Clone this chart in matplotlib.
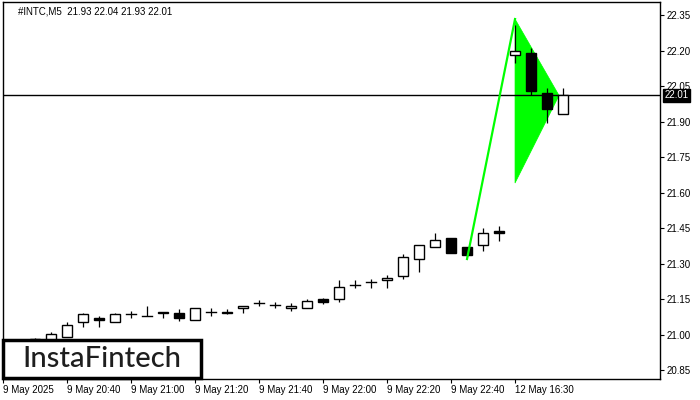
import matplotlib
matplotlib.use("Agg")
import matplotlib.pyplot as plt
from matplotlib.patches import Rectangle, Polygon

plt.rcParams['font.family'] = ['Liberation Sans', 'DejaVu Sans']

# OHLC data (M5 candles)
opens  = [20.962, 20.975, 20.981, 20.970, 20.991, 21.052, 21.069, 21.053, 21.086, 21.080,
          21.090, 21.090, 21.061, 21.096, 21.090, 21.113, 21.132, 21.125, 21.113, 21.111,
          21.149, 21.149, 21.208, 21.222, 21.229, 21.249, 21.318, 21.369, 21.408, 21.370,
          21.377, 21.437, 22.181, 22.189, 22.019, 21.930]
highs  = [20.968, 20.982, 20.985, 21.010, 21.053, 21.091, 21.078, 21.092, 21.101, 21.122,
          21.097, 21.108, 21.112, 21.111, 21.108, 21.122, 21.146, 21.139, 21.132, 21.150,
          21.153, 21.230, 21.230, 21.233, 21.250, 21.340, 21.378, 21.429, 21.409, 21.371,
          21.449, 21.459, 22.308, 22.211, 22.040, 22.040]
lows   = [20.955, 20.970, 20.965, 20.960, 20.990, 21.032, 21.032, 21.053, 21.069, 21.080,
          21.069, 21.059, 21.060, 21.080, 21.088, 21.090, 21.122, 21.111, 21.099, 21.110,
          21.131, 21.139, 21.198, 21.198, 21.198, 21.236, 21.266, 21.368, 21.345, 21.330,
          21.354, 21.396, 22.147, 22.012, 21.892, 21.930]
closes = [20.965, 20.978, 20.973, 21.002, 21.040, 21.087, 21.060, 21.087, 21.087, 21.080,
          21.096, 21.069, 21.111, 21.096, 21.096, 21.121, 21.132, 21.125, 21.122, 21.142,
          21.139, 21.200, 21.208, 21.222, 21.239, 21.326, 21.377, 21.398, 21.346, 21.337,
          21.428, 21.428, 22.198, 22.030, 21.952, 22.010]

tick_idx = [0, 4, 8, 12, 16, 20, 24, 28, 32]
tick_labels = ["9 May 2025", "9 May 20:40", "9 May 21:00", "9 May 21:20", "9 May 21:40",
               "9 May 22:00", "9 May 22:20", "9 May 22:40", "12 May 16:30"]
y_ticks = [20.85, 21.00, 21.15, 21.30, 21.45, 21.60, 21.75, 21.90, 22.05, 22.20, 22.35]

# Bullish pennant
pole_x = [29, 32]
pole_y = [21.319, 22.333]
flag_x = [32, 34.75, 32]
flag_y = [22.333, 22.010, 21.640]
last_price = 22.01
title = "#INTC,M5  21.93 22.04 21.93 22.01"

fig = plt.figure(figsize=(7, 4), dpi=100)
ax = fig.add_axes([3/700, 21/400, 657/700, 377/400])

ax.add_patch(Polygon(list(zip(flag_x, flag_y)), closed=True, fc='#00ff00', ec='#00ff00',
                     lw=0.5, zorder=1))
ax.axhline(last_price, color='black', lw=1, zorder=1.5)

bw = 0.66
for i, (o, h, l, c) in enumerate(zip(opens, highs, lows, closes)):
    ax.plot([i, i], [l, h], color='black', lw=0.9, zorder=2, solid_capstyle='butt')
    bottom = min(o, c)
    height = abs(c - o)
    fc = 'white' if c >= o else 'black'
    if height < 0.003:
        ax.plot([i - bw/2, i + bw/2], [o, o], color='black', lw=1.0, zorder=2.1)
    else:
        ax.add_patch(Rectangle((i - bw/2, bottom), bw, height, fc=fc, ec='black',
                               lw=1.0, zorder=2.1))

ax.plot(pole_x, pole_y, color='#00ff00', lw=1.6, zorder=3)

ax.set_xlim(0, 41.06)
ax.set_ylim(20.812, 22.405)

ax.yaxis.tick_right()
ax.set_yticks(y_ticks)
ax.set_yticklabels([f"{v:.2f}" for v in y_ticks])
ax.set_xticks(tick_idx)
ax.set_xticklabels(tick_labels, ha='left')
ax.tick_params(axis='both', direction='out', length=3, width=0.8, labelsize=7,
               colors='black', pad=2)
ax.tick_params(axis='x', pad=1.5)
for s in ax.spines.values():
    s.set_linewidth(1.0)
    s.set_color('black')

ax.annotate(f"{last_price:.2f}", xy=(1, last_price), xycoords=('axes fraction', 'data'),
            xytext=(3, 0), textcoords='offset points', ha='left', va='center',
            fontsize=7, color='white',
            bbox=dict(boxstyle='square,pad=0.15', fc='black', ec='black'),
            annotation_clip=False, zorder=5)

fig.text(18/700, 1 - 11/400, title, fontsize=7, color='black', ha='left', va='center')

# Logo
logo = Rectangle((3/700, 1 - 378/400), 198/700, 38/400, transform=fig.transFigure,
                 fc='white', ec='black', lw=2.5, zorder=10)
fig.add_artist(logo)
fig.text(102/700, 1 - 359/400, "InstaFintech", fontsize=21, color='#1e1e1e',
         ha='center', va='center', family=['Lato', 'DejaVu Sans'], weight='medium',
         zorder=11)

fig.savefig("out.png", dpi=100)
